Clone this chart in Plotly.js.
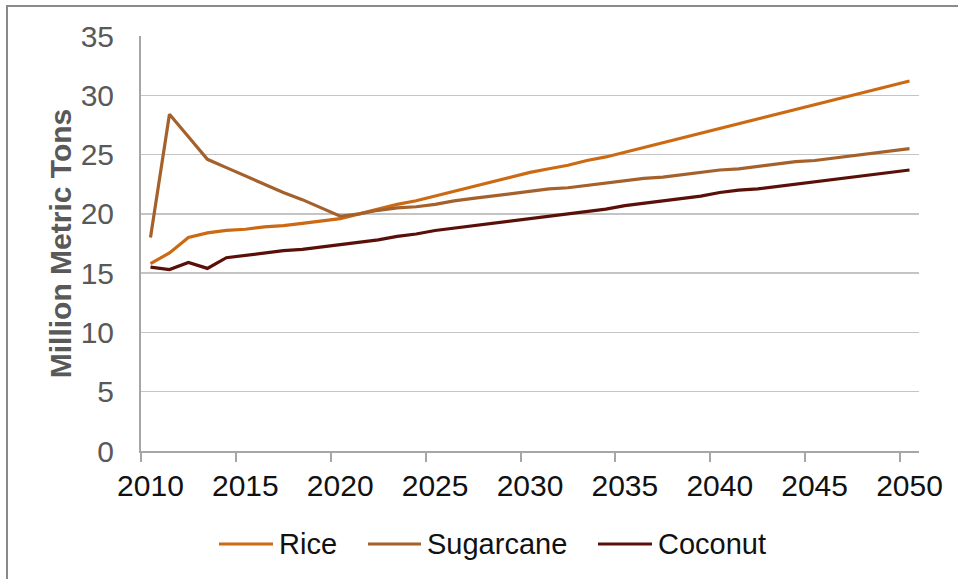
<!DOCTYPE html>
<html>
<head>
<meta charset="utf-8">
<script src="https://cdn.plot.ly/plotly-3.0.1.min.js"></script>
<style>
  html, body { margin: 0; padding: 0; background: #ffffff; overflow: hidden; }
  #chart { position: absolute; left: 0; top: 0; width: 958px; height: 579px; }
  #frame { position: absolute; left: 6px; top: 5px; width: 1000px; height: 1000px;
           border: 2px solid #8a8a8a; pointer-events: none; }
</style>
</head>
<body>
<div id="chart"></div>
<div id="frame"></div>
<script>
// Production outlook, million metric tons per year
const years = [2010, 2011, 2012, 2013, 2014, 2015, 2016, 2017, 2018, 2019,
               2020, 2021, 2022, 2023, 2024, 2025, 2026, 2027, 2028, 2029,
               2030, 2031, 2032, 2033, 2034, 2035, 2036, 2037, 2038, 2039,
               2040, 2041, 2042, 2043, 2044, 2045, 2046, 2047, 2048, 2049, 2050];

const rice = [15.8, 16.7, 18.0, 18.4, 18.6, 18.7, 18.9, 19.0, 19.2, 19.4,
              19.6, 20.0, 20.4, 20.8, 21.1, 21.5, 21.9, 22.3, 22.7, 23.1,
              23.5, 23.8, 24.1, 24.5, 24.8, 25.2, 25.6, 26.0, 26.4, 26.8,
              27.2, 27.6, 28.0, 28.4, 28.8, 29.2, 29.6, 30.0, 30.4, 30.8, 31.2];

const sugarcane = [18.0, 28.4, 26.5, 24.6, 23.9, 23.2, 22.5, 21.8, 21.2, 20.5,
                   19.8, 20.0, 20.3, 20.5, 20.6, 20.8, 21.1, 21.3, 21.5, 21.7,
                   21.9, 22.1, 22.2, 22.4, 22.6, 22.8, 23.0, 23.1, 23.3, 23.5,
                   23.7, 23.8, 24.0, 24.2, 24.4, 24.5, 24.7, 24.9, 25.1, 25.35, 25.5];

const coconut = [15.5, 15.3, 15.9, 15.4, 16.3, 16.5, 16.7, 16.9, 17.0, 17.2,
                 17.4, 17.6, 17.8, 18.1, 18.3, 18.6, 18.8, 19.0, 19.2, 19.4,
                 19.6, 19.8, 20.0, 20.2, 20.4, 20.7, 20.9, 21.1, 21.3, 21.5,
                 21.8, 22.0, 22.1, 22.3, 22.5, 22.7, 22.9, 23.1, 23.3, 23.5, 23.7];

const seriesNames = ['Rice', 'Sugarcane', 'Coconut'];
const seriesColors = ['#cc6a14', '#a4612c', '#5a1008'];
const xTickLabels = ['2010', '2015', '2020', '2025', '2030', '2035', '2040', '2045', '2050'];
const xTickVals = [2010, 2015, 2020, 2025, 2030, 2035, 2040, 2045, 2050];
const yTickVals = [0, 5, 10, 15, 20, 25, 30, 35];

const seriesData = [rice, sugarcane, coconut];

const traces = seriesData.map((vals, i) => ({
  type: 'scatter',
  mode: 'lines',
  name: seriesNames[i],
  x: years,
  y: vals,
  line: { color: seriesColors[i], width: 3.2 },
  showlegend: false,
  hoverinfo: 'x+y+name'
}));

// legend drawn below the plot: short line swatch followed by the series name
const legendItems = [
  { x0: 219, x1: 273, tx: 277 },
  { x0: 368, x1: 421, tx: 425 },
  { x0: 598, x1: 652, tx: 656 }
];
const plotL = 141, plotR = 919, plotT = 36, plotB = 451;
const pw = plotR - plotL, ph = plotB - plotT;
const px = v => (v - plotL) / pw;
const py = v => (plotB - v) / ph;
const legendY = 544;

const shapes = legendItems.map((it, i) => ({
  type: 'line', xref: 'paper', yref: 'paper',
  x0: px(it.x0), x1: px(it.x1), y0: py(legendY), y1: py(legendY),
  line: { color: seriesColors[i], width: 3.2 }
}));
const annotations = legendItems.map((it, i) => ({
  xref: 'paper', yref: 'paper',
  x: px(it.tx), y: py(legendY),
  xanchor: 'left', yanchor: 'middle',
  text: seriesNames[i], showarrow: false,
  font: { family: 'Liberation Sans, Arial, sans-serif', size: 29, color: '#111111' }
}));

const layout = {
  width: 958, height: 579,
  margin: { l: plotL, r: 958 - plotR, t: plotT, b: 579 - plotB },
  paper_bgcolor: '#ffffff',
  plot_bgcolor: '#ffffff',
  font: { family: 'Liberation Sans, Arial, sans-serif' },
  xaxis: {
    range: [2009.5, 2050.5],
    tickmode: 'array',
    tickvals: xTickVals,
    ticktext: xTickLabels,
    ticks: '',
    ticklabelstandoff: 7,
    tickfont: { size: 30, color: '#111111' },
    showgrid: false,
    zeroline: false,
    showline: true,
    linecolor: '#a6a6a6',
    linewidth: 2,
    minor: { tick0: 2009.5, dtick: 5, ticks: 'outside', ticklen: 9, tickcolor: '#a6a6a6', tickwidth: 2, showgrid: false },
    fixedrange: true
  },
  yaxis: {
    range: [0, 35],
    tickmode: 'array',
    tickvals: yTickVals,
    ticks: '',
    ticklabelstandoff: 19,
    tickfont: { size: 30, color: '#595959' },
    showgrid: true,
    gridcolor: '#c4c4c4',
    gridwidth: 1.5,
    zeroline: false,
    showline: true,
    linecolor: '#a6a6a6',
    linewidth: 2,
    title: {
      text: '<b>Million Metric Tons</b>',
      font: { size: 30, color: '#595959' },
      standoff: 0
    },
    fixedrange: true
  },
  shapes: shapes,
  annotations: annotations
};

Plotly.newPlot('chart', traces, layout, { displayModeBar: false, staticPlot: true });
</script>
</body>
</html>
